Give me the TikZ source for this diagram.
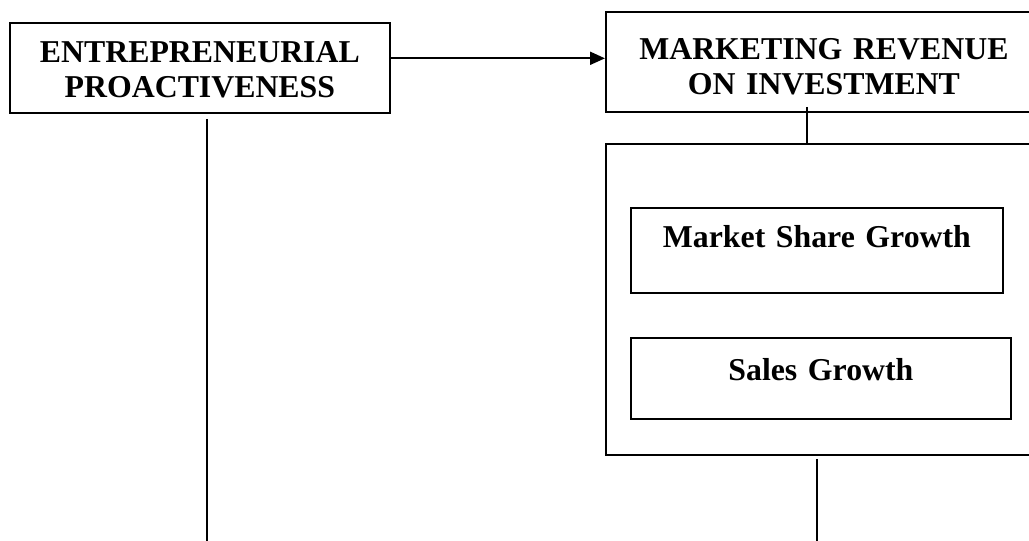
\documentclass[tikz,border=0pt]{standalone}
\usepackage{fontspec}
\setmainfont{Liberation Serif}
\usetikzlibrary{arrows.meta}
\tikzset{
  boxstyle/.style={draw=black, line width=1.8pt, rectangle, inner sep=0pt, align=center,
    font=\fontsize{31.8}{35}\selectfont\bfseries},
  linkstyle/.style={draw=black, line width=2pt},
  arr/.style={linkstyle, -{Triangle[length=15pt,width=13pt]}}
}
\begin{document}
\begin{tikzpicture}[x=1pt,y=-1pt]
\clip (0,0) rectangle (1029,541);
% left box 9..389 x 22..112
\node[boxstyle, text width=380pt, text height=40pt, text depth=50pt, anchor=north west]
  (lbox) at (9,22) {ENTREPRENEURIAL\\PROACTIVENESS};
% right top box 605..1041 x 11..111
\node[boxstyle, text width=436pt, text height=48pt, text depth=52pt, anchor=north west]
  (rbox) at (605,11) {MARKETING REVENUE\\ON INVESTMENT};
% outer box 605..1041 x 143..454
\node[boxstyle, minimum width=436pt, minimum height=311pt, anchor=north west]
  (obox) at (605,143) {};
% inner boxes
\node[boxstyle, text width=372pt, text height=40pt, text depth=45pt, anchor=north west]
  (msg) at (630,207) {Market Share Growth};
\node[boxstyle, text width=380pt, text height=43pt, text depth=38pt, anchor=north west]
  (sg) at (630,337) {Sales Growth};
% free ends
\coordinate (lend) at (207,541);
\coordinate (rend) at (817,541);
% connectors
\draw[arr] (lbox.east |- 0,58.3) -- (rbox.west |- 0,58.3);
\draw[linkstyle] ([yshift=6pt]rbox.south -| 807,0) -- (obox.north -| 807,0);
\draw[linkstyle] ([yshift=-5pt]lbox.south -| lend) -- (lend);
\draw[linkstyle] ([yshift=-3pt]obox.south -| rend) -- (rend);
\end{tikzpicture}
\end{document}
